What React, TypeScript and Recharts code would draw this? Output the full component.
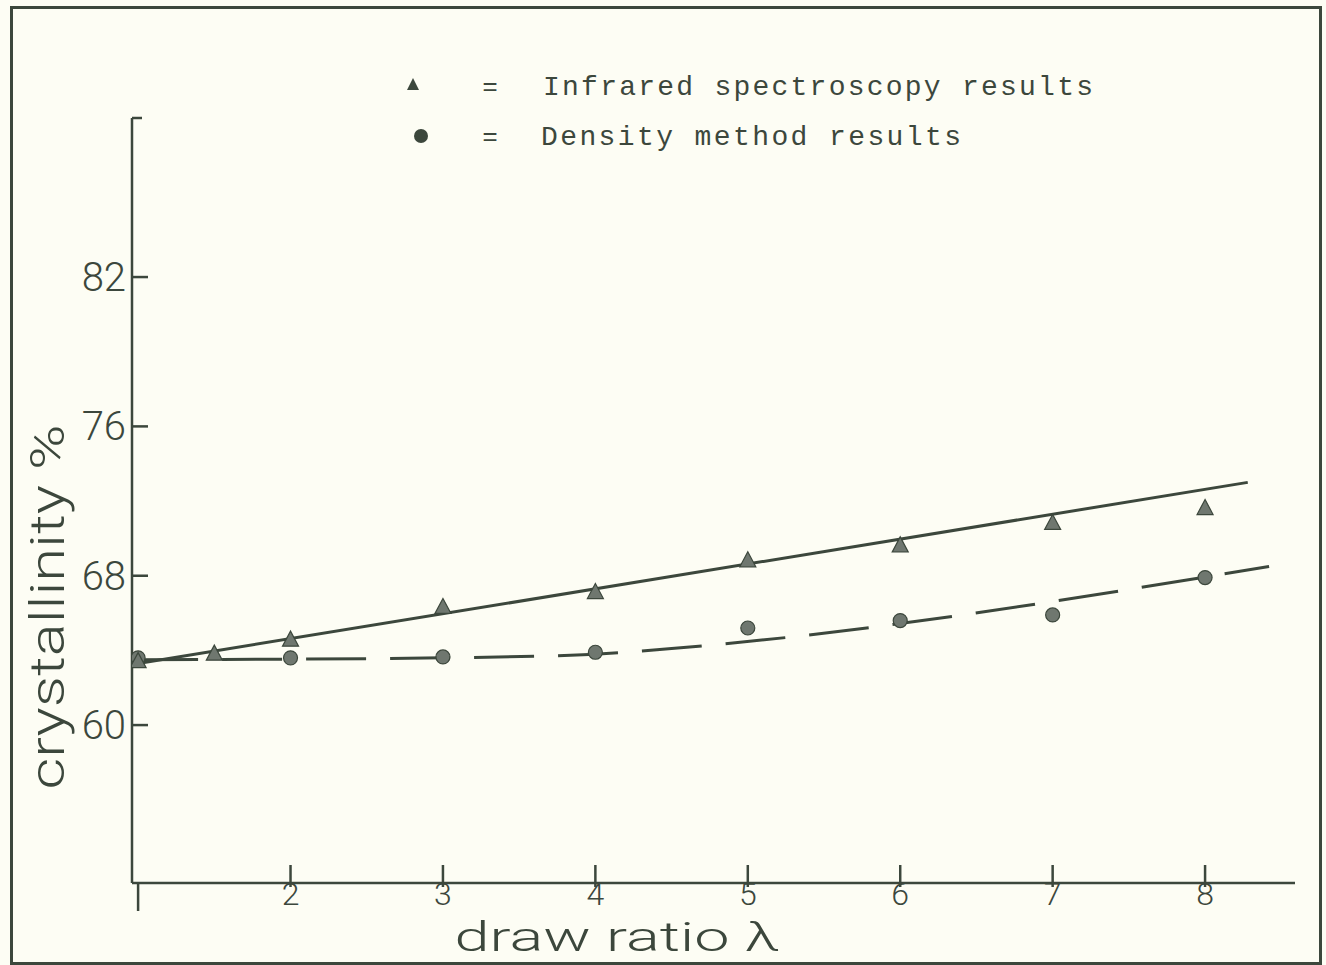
import { ComposedChart, Line, Scatter, XAxis, YAxis } from "recharts";

const xTicks = [1, 2, 3, 4, 5, 6, 7, 8];
const yTicks = [60, 68, 76, 84];
const yTickLabels = ["60", "68", "76", "82"];

const infraredX = [1, 1.5, 2, 3, 4, 5, 6, 7, 8];
const infraredY = [63.4, 63.8, 64.55, 66.3, 67.1, 68.8, 69.6, 70.8, 71.6];

const densityX = [1, 2, 3, 4, 5, 6, 7, 8];
const densityY = [63.6, 63.6, 63.65, 63.9, 65.2, 65.6, 65.9, 67.9];

const infraredFitX = [1, 8.28];
const infraredFitY = [63.3, 73.0];

const densityFitX = [1, 3, 4, 4.5, 8.42];
const densityFitY = [63.5, 63.6, 63.8, 64.1, 68.5];

const zip = (xs: number[], ys: number[]) => xs.map((x, i) => ({ x, y: ys[i] }));

const ink = "#3c473c";
const markFill = "#6f776f";
const paper = "#fdfdf4";
const letterFont = "Roboto, 'DejaVu Sans', sans-serif";
const typeFont = "'Liberation Mono', 'DejaVu Sans Mono', monospace";

function Triangle(props: any) {
  const { cx, cy } = props;
  if (cx == null || cy == null) return null;
  return (
    <polygon
      points={`${cx},${cy - 9} ${cx - 8},${cy + 6} ${cx + 8},${cy + 6}`}
      fill={markFill}
      stroke={ink}
      strokeWidth={1.2}
    />
  );
}

function Dot(props: any) {
  const { cx, cy } = props;
  if (cx == null || cy == null) return null;
  return <circle cx={cx} cy={cy} r={7} fill={markFill} stroke={ink} strokeWidth={1.2} />;
}

// y ticks point inward (to the right of the axis), labels sit left of it
function YTick(props: any) {
  const { x, y, payload } = props;
  const i = yTicks.indexOf(payload.value);
  const ax = x + 8;
  return (
    <g>
      <line x1={ax} y1={y} x2={ax + 16} y2={y} stroke={ink} strokeWidth={2.5} />
      <text
        x={ax - 6}
        y={y + 14}
        textAnchor="end"
        fontFamily={letterFont}
        fontWeight={300}
        fontSize={40}
        fill={ink}
      >
        {i >= 0 ? yTickLabels[i] : ""}
      </text>
    </g>
  );
}

function XTick(props: any) {
  const { x, y, payload } = props;
  const ay = y - 8;
  const first = payload.value === 1;
  return (
    <g>
      <line
        x1={x}
        y1={first ? ay : ay - 18}
        x2={x}
        y2={first ? ay + 28 : ay + 4}
        stroke={ink}
        strokeWidth={2.5}
      />
      <text
        x={x}
        y={ay + 22}
        textAnchor="middle"
        fontFamily={letterFont}
        fontWeight={300}
        fontSize={32}
        fill={ink}
      >
        {first ? "" : String(payload.value)}
      </text>
    </g>
  );
}

export default function App() {
  return (
    <div
      style={{
        position: "absolute",
        left: 0,
        top: 0,
        width: 1326,
        height: 965,
        background: paper,
        overflow: "hidden",
      }}
    >
      <div
        style={{
          position: "absolute",
          left: 10,
          top: 6,
          width: 1306,
          height: 953,
          border: `3px solid ${ink}`,
        }}
      />
      <ComposedChart
        width={1326}
        height={965}
        margin={{ top: 118, right: 31, bottom: 52, left: 72 }}
        style={{ position: "absolute", left: 0, top: 0 }}
      >
        <XAxis
          type="number"
          dataKey="x"
          domain={[0.96, 8.59]}
          ticks={xTicks}
          height={30}
          tickSize={0}
          tickMargin={8}
          tickLine={false}
          tick={<XTick />}
          axisLine={{ stroke: ink, strokeWidth: 2.5 }}
          allowDataOverflow
        />
        <YAxis
          type="number"
          dataKey="y"
          domain={[51.54, 92.52]}
          ticks={yTicks}
          width={60}
          tickSize={0}
          tickMargin={8}
          tickLine={false}
          tick={<YTick />}
          axisLine={{ stroke: ink, strokeWidth: 2.5 }}
          allowDataOverflow
        />
        <Line
          data={zip(infraredFitX, infraredFitY)}
          dataKey="y"
          type="linear"
          stroke={ink}
          strokeWidth={3}
          dot={false}
          isAnimationActive={false}
        />
        <Line
          data={zip(densityFitX, densityFitY)}
          dataKey="y"
          type="monotone"
          stroke={ink}
          strokeWidth={3}
          strokeDasharray="60 24"
          dot={false}
          isAnimationActive={false}
        />
        <Scatter
          data={zip(densityX, densityY)}
          dataKey="y"
          shape={<Dot />}
          isAnimationActive={false}
        />
        <Scatter
          data={zip(infraredX, infraredY)}
          dataKey="y"
          shape={<Triangle />}
          isAnimationActive={false}
        />
      </ComposedChart>

      <svg
        width={1326}
        height={965}
        style={{ position: "absolute", left: 0, top: 0, pointerEvents: "none" }}
      >
        <line x1={132} y1={118} x2={142} y2={118} stroke={ink} strokeWidth={2.5} />
        <polygon points="413,78 407,90 419,90" fill={ink} />
        <circle cx={421} cy={136} r={7} fill={ink} />
        <text x={490} y={95} textAnchor="middle" fontFamily={typeFont} fontSize={26} fill={ink}>
          =
        </text>
        <text x={490} y={145} textAnchor="middle" fontFamily={typeFont} fontSize={26} fill={ink}>
          =
        </text>
        <text
          x={543}
          y={95}
          fontFamily={typeFont}
          fontSize={28}
          fill={ink}
          textLength={550}
          lengthAdjust="spacing"
        >
          Infrared spectroscopy results
        </text>
        <text
          x={541}
          y={145}
          fontFamily={typeFont}
          fontSize={28}
          fill={ink}
          textLength={420}
          lengthAdjust="spacing"
        >
          Density method results
        </text>
        <text
          x={0}
          y={0}
          transform="translate(64,607) rotate(-90)"
          textAnchor="middle"
          fontFamily={letterFont}
          fontWeight={300}
          fontSize={48}
          fill={ink}
          textLength={365}
          lengthAdjust="spacingAndGlyphs"
        >
          crystallinity %
        </text>
        <text
          x={617}
          y={951}
          textAnchor="middle"
          fontFamily={letterFont}
          fontWeight={300}
          fontSize={40}
          fill={ink}
          textLength={325}
          lengthAdjust="spacingAndGlyphs"
        >
          draw ratio λ
        </text>
      </svg>
    </div>
  );
}
